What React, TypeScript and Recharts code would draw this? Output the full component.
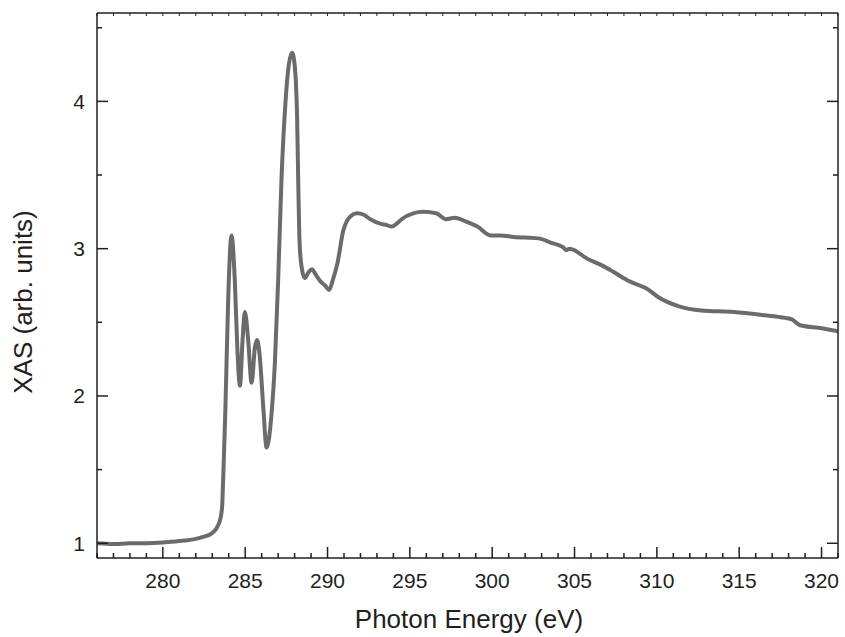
import { LineChart, Line, XAxis, YAxis } from "recharts";

// photon energy (eV) and XAS intensity (arb. units)
const energy = [
  276.0, 277.0, 278.0, 279.0, 280.0, 280.5, 281.0, 281.5, 282.0, 282.5, 283.0, 283.3, 283.5, 283.6,
  283.66, 283.79, 283.97, 284.17, 284.37, 284.52, 284.68, 284.84, 284.98, 285.18, 285.39, 285.59,
  285.73, 285.89, 286.1, 286.3, 286.6, 286.8, 287.0, 287.2, 287.45, 287.65, 287.85, 288.0, 288.15,
  288.22, 288.3, 288.42, 288.62, 288.85, 289.05, 289.3, 289.55, 289.85, 290.1, 290.3, 290.6, 290.95,
  291.4, 291.8, 292.2, 292.6, 293.2, 293.6, 293.9, 294.2, 294.5, 295.2, 295.8, 296.6, 297.2, 297.7,
  298.5, 299.1, 299.9, 300.5, 301.3, 302.8, 303.6, 304.3, 304.5, 304.7, 305.8, 306.6, 307.4, 308.3,
  309.5, 310.1, 311.3, 312.7, 314.7, 316.4, 317.8, 318.2, 318.7, 320.0, 321.0,
];
const xas = [
  1.0, 0.995, 1.0, 1.0, 1.005, 1.01, 1.015, 1.02, 1.03, 1.045, 1.07, 1.11, 1.17, 1.25,
  1.43, 1.88, 2.67, 3.09, 2.78, 2.33, 2.07, 2.38, 2.57, 2.38, 2.09, 2.33,
  2.38, 2.26, 1.92, 1.65, 1.88, 2.22, 2.78, 3.46, 4.0, 4.25, 4.33, 4.25, 3.9,
  3.46, 3.05, 2.88, 2.8, 2.84, 2.86, 2.82, 2.78, 2.75, 2.72, 2.78, 2.9, 3.12,
  3.22, 3.24, 3.23, 3.2, 3.17, 3.16, 3.15, 3.17, 3.2, 3.24, 3.25, 3.24, 3.2, 3.21,
  3.18, 3.15, 3.09, 3.09, 3.08, 3.07, 3.04, 3.01, 2.99, 3.0, 2.93, 2.89, 2.84, 2.78,
  2.72, 2.67, 2.61, 2.58, 2.57, 2.55, 2.53, 2.52, 2.48, 2.46, 2.44,
];

const xTicks = Array.from({ length: 46 }, (_, i) => 276 + i);
const yTicks = [1, 1.5, 2, 2.5, 3, 3.5, 4, 4.5];

const data = energy.map((e, i) => ({ e, v: xas[i] }));

const INK = "#231f20";
const FONT = "'Liberation Sans', Arial, sans-serif";

// ticks point into the plot, like the original figure
const BottomTick = ({ x, y, payload }: any) => {
  const v = payload.value;
  const major = v % 5 === 0;
  return (
    <g>
      <line x1={x} x2={x} y1={y} y2={y - (major ? 11 : 5)} stroke={INK} strokeWidth={1.5} />
      {major && (
        <text x={x} y={y + 30} textAnchor="middle" fontSize={21} fontFamily={FONT} fill={INK}>
          {v}
        </text>
      )}
    </g>
  );
};

const TopTick = ({ x, y }: any) => (
  <line x1={x} x2={x} y1={y} y2={y + 3} stroke={INK} strokeWidth={1} />
);

const LeftTick = ({ x, y, payload }: any) => {
  const v = payload.value;
  const major = Number.isInteger(v);
  return (
    <g>
      <line x1={x} x2={x + (major ? 11 : 5)} y1={y} y2={y} stroke={INK} strokeWidth={1.5} />
      {major && (
        <text x={x - 12} y={y + 7.5} textAnchor="end" fontSize={21} fontFamily={FONT} fill={INK}>
          {v}
        </text>
      )}
    </g>
  );
};

const RightTick = ({ x, y, payload }: any) => {
  const major = Number.isInteger(payload.value);
  return <line x1={x} x2={x - (major ? 11 : 5)} y1={y} y2={y} stroke={INK} strokeWidth={1.5} />;
};

export default function App() {
  return (
    <div style={{ position: "absolute", left: 0, top: 0, width: 845, height: 637, background: "#fff" }}>
      <LineChart width={845} height={637} data={data} margin={{ top: 12, right: 6, left: 0, bottom: 0 }}>
        <XAxis
          xAxisId="b"
          type="number"
          dataKey="e"
          domain={[276, 321]}
          ticks={xTicks}
          interval={0}
          allowDataOverflow
          height={79}
          tickSize={0}
          tickMargin={0}
          axisLine={{ stroke: INK, strokeWidth: 1.5 }}
          tick={(p: any) => <BottomTick {...p} />}
        />
        <XAxis
          xAxisId="t"
          orientation="top"
          type="number"
          dataKey="e"
          domain={[276, 321]}
          ticks={xTicks}
          interval={0}
          allowDataOverflow
          height={1}
          tickSize={0}
          tickMargin={0}
          axisLine={{ stroke: INK, strokeWidth: 1.5 }}
          tick={(p: any) => <TopTick {...p} />}
        />
        <YAxis
          yAxisId="l"
          type="number"
          domain={[0.9, 4.6]}
          ticks={yTicks}
          interval={0}
          allowDataOverflow
          width={97}
          tickSize={0}
          tickMargin={0}
          axisLine={{ stroke: INK, strokeWidth: 1.5 }}
          tick={(p: any) => <LeftTick {...p} />}
        />
        <YAxis
          yAxisId="r"
          orientation="right"
          type="number"
          domain={[0.9, 4.6]}
          ticks={yTicks}
          interval={0}
          allowDataOverflow
          width={1}
          tickSize={0}
          tickMargin={0}
          axisLine={{ stroke: INK, strokeWidth: 1.5 }}
          tick={(p: any) => <RightTick {...p} />}
        />
        <Line
          xAxisId="b"
          yAxisId="l"
          type="monotone"
          dataKey="v"
          stroke="#6a6b6e"
          strokeWidth={4}
          dot={false}
          isAnimationActive={false}
        />
        <text x={469} y={628} textAnchor="middle" fontSize={26} fontFamily={FONT} fill={INK}>
          Photon Energy (eV)
        </text>
        <text
          transform="translate(32,302) rotate(-90)"
          textAnchor="middle"
          fontSize={26}
          fontFamily={FONT}
          fill={INK}
        >
          XAS (arb. units)
        </text>
      </LineChart>
    </div>
  );
}
